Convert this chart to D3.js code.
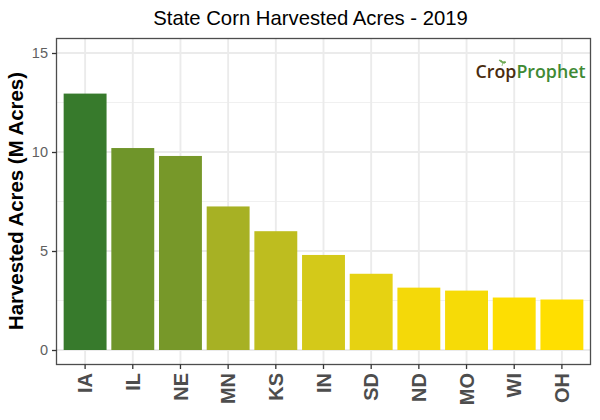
<!DOCTYPE html>
<html>
<head>
<meta charset="utf-8">
<script src="https://cdn.jsdelivr.net/npm/d3@7"></script>
<style>
  body { margin: 0; background: #fff; }
  text { font-family: "Liberation Sans", sans-serif; }
</style>
</head>
<body>
<svg id="chart" width="600" height="420"></svg>
<script>
// values
var states = ["IA", "IL", "NE", "MN", "KS", "IN", "SD", "ND", "MO", "WI", "OH"];
var acres = [12.95, 10.2, 9.8, 7.25, 6.0, 4.8, 3.85, 3.15, 3.0, 2.65, 2.55];
var yTicks = [0, 5, 10, 15];
var yMinorTicks = [2.5, 7.5, 12.5];

var svg = d3.select("#chart");
var left = 56.5, right = 590.5, top_ = 38.5, bottom = 364.5;

// same padding as a ggplot discrete axis: 0.6 of a step on each side
var step = (right - left) / (states.length + 0.2);
var x = d3.scaleBand()
  .domain(states)
  .range([left + 0.1 * step, right - 0.1 * step])
  .paddingInner(0.1)
  .paddingOuter(0.05);

var y = d3.scaleLinear()
  .domain([0, 15])
  .range([350, 53]);

var color = d3.scaleLinear()
  .domain([d3.min(acres), d3.max(acres)])
  .range(["#ffdf00", "#377a2c"])
  .interpolate(d3.interpolateLab);

// Gridlines
var grid = svg.append("g");
grid.selectAll(".minor").data(yMinorTicks).join("line")
  .attr("x1", left).attr("x2", right)
  .attr("y1", d => y(d)).attr("y2", d => y(d))
  .attr("stroke", "#f0f0f0").attr("stroke-width", 1);
grid.selectAll(".major").data(yTicks).join("line")
  .attr("x1", left).attr("x2", right)
  .attr("y1", d => y(d)).attr("y2", d => y(d))
  .attr("stroke", "#ebebeb").attr("stroke-width", 1.9);
grid.selectAll(".vert").data(states).join("line")
  .attr("x1", d => x(d) + x.bandwidth() / 2).attr("x2", d => x(d) + x.bandwidth() / 2)
  .attr("y1", top_).attr("y2", bottom)
  .attr("stroke", "#ebebeb").attr("stroke-width", 1.9);

// Bars
svg.append("g").selectAll("rect").data(states).join("rect")
  .attr("x", d => x(d))
  .attr("width", x.bandwidth())
  .attr("y", (d, i) => y(acres[i]))
  .attr("height", (d, i) => y(0) - y(acres[i]))
  .attr("fill", (d, i) => color(acres[i]));

// Logo
var logo = svg.append("text")
  .attr("x", 475.5).attr("y", 78)
  .style("font-family", "'Open Sans', sans-serif")
  .style("font-size", "17.8px")
  .style("font-weight", 600);
logo.append("tspan").attr("fill", "#4a2c0f").text("Crop");
logo.append("tspan").attr("fill", "#3f8a35").text("Prophet");

// little sprout above the o of the logo
svg.append("path")
  .attr("d", "M502 66 L503 62 M503 63 Q500 62 499 60 Q502 60 503 62 Q504 61 506 62 Q505 64 503 63")
  .attr("fill", "#6aa84f")
  .attr("stroke", "#6aa84f")
  .attr("stroke-width", 0.7);

// Panel border
svg.append("rect")
  .attr("x", left).attr("y", top_)
  .attr("width", right - left).attr("height", bottom - top_)
  .attr("fill", "none").attr("stroke", "#4d4d4d").attr("stroke-width", 1.3);

// Axes
var yAxis = svg.append("g")
  .attr("transform", `translate(${left},0)`)
  .call(d3.axisLeft(y).tickValues(yTicks).tickSize(4.5).tickPadding(4));
yAxis.select(".domain").remove();
yAxis.selectAll("line").attr("stroke", "#333").attr("stroke-width", 1.3);
yAxis.selectAll("text")
  .attr("fill", "#5f5f5f")
  .style("font-size", "14.5px");

var xAxis = svg.append("g")
  .attr("transform", `translate(0,${bottom})`)
  .call(d3.axisBottom(x).tickSize(4.5));
xAxis.select(".domain").remove();
xAxis.selectAll("line").attr("stroke", "#333").attr("stroke-width", 1.3);
xAxis.selectAll("text")
  .attr("fill", "#4d4d4d")
  .attr("transform", "rotate(-90)")
  .attr("x", -8.5)
  .attr("y", 0)
  .attr("dy", "0.36em")
  .attr("text-anchor", "end")
  .style("font-size", "20px")
  .style("font-weight", "bold");

// Titles
svg.append("text")
  .attr("x", 310.5).attr("y", 24.5)
  .attr("text-anchor", "middle")
  .attr("fill", "#000")
  .style("font-size", "20.3px")
  .text("State Corn Harvested Acres - 2019");

svg.append("text")
  .attr("transform", `translate(23,${(top_ + bottom) / 2 - 0.5}) rotate(-90)`)
  .attr("text-anchor", "middle")
  .attr("fill", "#000")
  .style("font-size", "20.4px")
  .style("font-weight", "bold")
  .text("Harvested Acres (M Acres)");
</script>
</body>
</html>
